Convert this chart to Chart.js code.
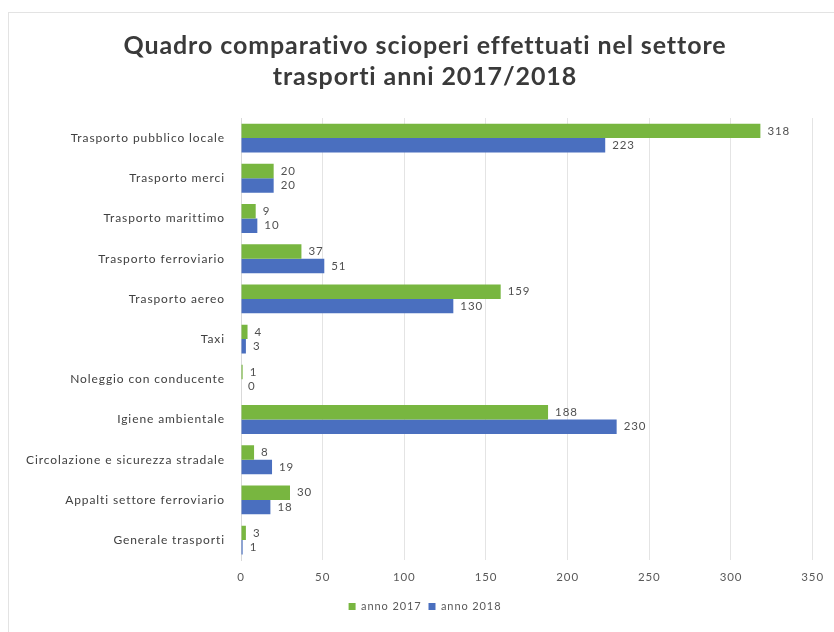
<!DOCTYPE html>
<html>
<head>
<meta charset="utf-8">
<script src="https://cdn.jsdelivr.net/npm/chart.js@4/dist/chart.umd.min.js"></script>
<style>
html,body{margin:0;padding:0;background:#fff;}
#wrap{position:absolute;left:0;top:0;width:834px;height:632px;}
#frame{position:absolute;left:8px;top:12px;width:840px;height:640px;border:1px solid #e3e3e3;box-sizing:border-box;}
canvas{position:absolute;left:0;top:0;}
</style>
</head>
<body>
<div id="wrap">
<div id="frame"></div>
<canvas id="c" width="834" height="632"></canvas>
</div>
<script>
const titleLines = ["Quadro comparativo scioperi effettuati nel settore", "trasporti anni 2017/2018"];
const categories = [
  "Trasporto pubblico locale",
  "Trasporto merci",
  "Trasporto marittimo",
  "Trasporto ferroviario",
  "Trasporto aereo",
  "Taxi",
  "Noleggio con conducente",
  "Igiene ambientale",
  "Circolazione e sicurezza stradale",
  "Appalti settore ferroviario",
  "Generale trasporti"
];
const seriesNames = ["anno 2017", "anno 2018"];
const values2017 = [318, 20, 9, 37, 159, 4, 1, 188, 8, 30, 3];
const values2018 = [223, 20, 10, 51, 130, 3, 0, 230, 19, 18, 1];
const xTicksMax = 350;
const xTicksStep = 50;

const FONT = "Lato, 'Open Sans', sans-serif";
const SPACING = '0.9px';

const spacingPlugin = {
  id: 'spacing',
  beforeLayout(chart) { chart.ctx.letterSpacing = SPACING; },
  beforeDraw(chart) { chart.ctx.letterSpacing = SPACING; }
};

const valueLabels = {
  id: 'valueLabels',
  afterDatasetsDraw(chart) {
    const ctx = chart.ctx;
    ctx.save();
    ctx.letterSpacing = SPACING;
    ctx.font = "11.5px " + FONT;
    ctx.fillStyle = "#505050";
    ctx.textAlign = "left";
    ctx.textBaseline = "middle";
    chart.data.datasets.forEach((ds, i) => {
      const meta = chart.getDatasetMeta(i);
      meta.data.forEach((el, j) => {
        ctx.fillText(String(ds.data[j]), el.x + 7, el.y);
      });
    });
    ctx.restore();
  }
};

new Chart(document.getElementById('c'), {
  type: 'bar',
  data: {
    labels: categories,
    datasets: [
      { label: seriesNames[0], data: values2017, backgroundColor: '#78b640', borderWidth: 0 },
      { label: seriesNames[1], data: values2018, backgroundColor: '#4a6fbf', borderWidth: 0 }
    ]
  },
  options: {
    indexAxis: 'y',
    responsive: false,
    animation: false,
    devicePixelRatio: 1,
    layout: { padding: { left: 36, right: 20, top: 30, bottom: 10 } },
    datasets: { bar: { categoryPercentage: 0.72, barPercentage: 1.0 } },
    plugins: {
      title: {
        display: true,
        text: titleLines,
        color: '#3a3a3a',
        font: { family: FONT, size: 25, weight: 'bold', lineHeight: 1.24 },
        padding: { top: 0, bottom: 26 }
      },
      legend: {
        position: 'bottom',
        labels: {
          boxWidth: 7, boxHeight: 7, color: '#595959',
          font: { family: FONT, size: 11 }, padding: 7
        }
      },
      tooltip: { enabled: false }
    },
    scales: {
      x: {
        min: 0, max: xTicksMax,
        ticks: { stepSize: xTicksStep, color: '#595959', font: { family: FONT, size: 11.5 }, padding: 10 },
        grid: { color: '#e4e4e4', drawTicks: false },
        border: { display: false }
      },
      y: {
        ticks: { color: '#404040', font: { family: FONT, size: 12 }, padding: 8 },
        grid: { display: false },
        border: { display: true, color: '#d9d9d9' },
        afterFit(scale) {
          scale.width = 205;
          scale._computeLabelArea = () => undefined;
        }
      }
    }
  },
  plugins: [spacingPlugin, valueLabels]
});
</script>
</body>
</html>
